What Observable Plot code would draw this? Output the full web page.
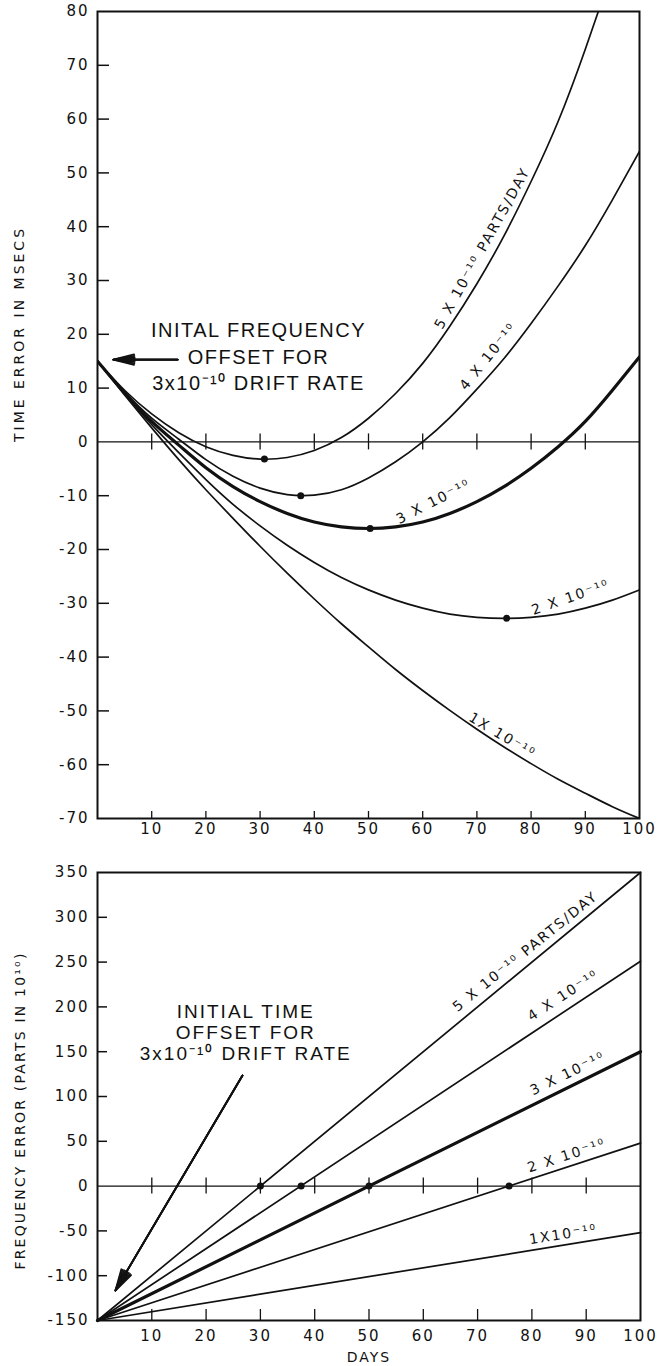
<!DOCTYPE html>
<html>
<head>
<meta charset="utf-8">
<script src="https://cdn.jsdelivr.net/npm/d3@7"></script>
<script src="https://cdn.jsdelivr.net/npm/@observablehq/plot@0.6"></script>
<style>
  html, body { margin: 0; padding: 0; background: #fff; }
  #chart svg { display: block; }
  g[aria-label="y-axis tick label"], g[aria-label="x-axis tick label"] { letter-spacing: 2px; }
  g[aria-description="axis title top"] { letter-spacing: 3px; }
  g[aria-description="axis title bottom"] { letter-spacing: 2.2px; }
  g[aria-description="days title"] { letter-spacing: 2px; }
  g[aria-description="curve labels"] { letter-spacing: 2px; }
  g[aria-description="note top"] { letter-spacing: 1.5px; }
  g[aria-description="note bottom"] { letter-spacing: 2px; }
</style>
</head>
<body>
<div id="chart"></div>
<script>
// ---------- DATA ----------
const days = [0, 5, 10, 15, 20, 25, 30, 35, 40, 45, 50, 55, 60, 65, 70, 75, 80, 85, 90, 95, 100];
// time error (msec) for drift rates 5,4,3,2,1 x10^-10 parts/day
const time5 = [15, 9.6, 5.2, 1.7, -0.9, -2.5, -3.2, -2.9, -1.6, 0.8, 4.4, 9.0, 14.6, 21.5, 29.4, 38.3, 48.4, 59.6, 73, 87.5, 101];
const time4 = [15, 9.3, 4.4, 0.5, -3.3, -6.4, -8.6, -9.8, -9.9, -8.9, -6.7, -3.7, 0, 4.5, 9.8, 15.5, 22, 29, 36.5, 45, 54];
const time3 = [15, 9.1, 3.8, -0.6, -4.8, -8.3, -11.1, -13.3, -14.9, -15.8, -16.1, -15.8, -14.9, -13.3, -11.1, -8.3, -4.9, -0.9, 3.8, 9.6, 15.8];
const time2 = [15, 8.9, 3.2, -2.0, -7.0, -11.6, -15.6, -19.2, -22.4, -25.2, -27.5, -29.4, -30.9, -32, -32.6, -32.8, -32.6, -32, -30.9, -29.4, -27.5];
const time1 = [15, 8.7, 2.6, -3.3, -8.9, -14.2, -19.4, -24.4, -29.2, -33.8, -38.1, -42.3, -46.2, -49.9, -53.4, -56.7, -59.8, -62.7, -65.3, -67.8, -70];
// minima dots (day, msec)
const timeDots = [{x: 30.8, y: -3.2}, {x: 37.5, y: -10}, {x: 50.3, y: -16.1}, {x: 75.5, y: -32.8}];

// frequency error (parts in 10^10), straight lines
const freqDays = [0, 100];
const freq5 = [-150, 350];
const freq4 = [-150, 251];
const freq3 = [-150, 150];
const freq2 = [-150, 48];
const freq1 = [-150, -52];
const freqDots = [{x: 30, y: 0}, {x: 37.5, y: 0}, {x: 50, y: 0}, {x: 75.8, y: 0}];

// tick values and labels
const xTickVals = [10, 20, 30, 40, 50, 60, 70, 80, 90];
const xTickLabels = [10, 20, 30, 40, 50, 60, 70, 80, 90, 100];
const yTopLabels = [-70, -60, -50, -40, -30, -20, -10, 0, 10, 20, 30, 40, 50, 60, 70, 80];
const yTopInner = [-60, -50, -40, -30, -20, -10, 10, 20, 30, 40, 50, 60, 70];
const yBotLabels = [-150, -100, -50, 0, 50, 100, 150, 200, 250, 300, 350];
const yBotInner = [-100, -50, 50, 100, 150, 200, 250, 300];

// curve labels (text, position in data units, angle)
const topCurveLabels = [
  {text: "5 X 10⁻¹⁰ PARTS/DAY", x: 71, y: 36, angle: -61},
  {text: "4 X 10⁻¹⁰", x: 72.1, y: 15.9, angle: -51},
  {text: "3 X 10⁻¹⁰", x: 62, y: -11.1, angle: -27},
  {text: "2 X 10⁻¹⁰", x: 87.3, y: -28.9, angle: -19},
  {text: "1X 10⁻¹⁰", x: 74.7, y: -54.6, angle: 31}
];
const botCurveLabels = [
  {text: "5 X 10⁻¹⁰ PARTS/DAY", x: 78.8, y: 261.8, angle: -39},
  {text: "4 X 10⁻¹⁰", x: 85.8, y: 212.7, angle: -33},
  {text: "3 X 10⁻¹⁰", x: 86.6, y: 125.7, angle: -26},
  {text: "2 X 10⁻¹⁰", x: 86.4, y: 34, angle: -18},
  {text: "1X10⁻¹⁰", x: 85.8, y: -54, angle: -9}
];
// annotations
const topNote = [{text: "INITAL FREQUENCY\nOFFSET FOR\n3x10⁻¹⁰ DRIFT RATE", x: 29.7, y: 16.1}];
const topArrow = [{x1: 14.8, y1: 15.3, x2: 2.9, y2: 15.3}];
const botNote = [{text: "INITIAL TIME\nOFFSET FOR\n3x10⁻¹⁰ DRIFT RATE", x: 27.3, y: 171.4}];
const botArrow = [{x1: 26.7, y1: 123.4, x2: 3.3, y2: -116.5}];

// ---------- BUILD ----------
const INK = "#111";
function rows(xs, series) {
  const out = [];
  for (const [rate, ys] of series) xs.forEach((d, i) => out.push({day: d, value: ys[i], rate}));
  return out;
}
const topThin = rows(days, [["5", time5], ["4", time4], ["2", time2], ["1", time1]]);
const topThick = rows(days, [["3", time3]]);
const botThin = rows(freqDays, [["5", freq5], ["4", freq4], ["2", freq2], ["1", freq1]]);
const botThick = rows(freqDays, [["3", freq3]]);

function arrowMarks(data, headPx, angles) {
  return angles.map(a => {
    const sw = 1.8;
    return Plot.arrow(data, {x1: "x1", y1: "y1", x2: "x2", y2: "y2", stroke: INK, strokeWidth: sw,
      headLength: headPx * 1.5 / sw, headAngle: a});
  });
}

const baseStyle = {fontFamily: "'DejaVu Sans', sans-serif", fontSize: "15px", color: INK, background: "white", overflow: "visible"};

const topChart = Plot.plot({
  width: 659, height: 845,
  marginTop: 11, marginRight: 20, marginBottom: 27, marginLeft: 97,
  x: {domain: [0, 100]},
  y: {domain: [-70, 80]},
  style: baseStyle,
  marks: [
    Plot.ruleY([0], {stroke: INK, strokeWidth: 1.3}),
    Plot.ruleX(xTickVals, {x: d => d, y1: 0, y2: 0, insetTop: -8, insetBottom: -8, stroke: INK, strokeWidth: 1.3}),
    Plot.ruleX(xTickVals, {x: d => d, y1: -70, y2: -70, insetTop: -7, stroke: INK, strokeWidth: 1.3}),
    Plot.ruleY(yTopInner, {y: d => d, x1: 0, x2: 0, insetRight: -12, stroke: INK, strokeWidth: 1.5}),
    Plot.line(topThin, {x: "day", y: "value", z: "rate", curve: "natural", stroke: INK, strokeWidth: 1.7, clip: true}),
    Plot.line(topThick, {x: "day", y: "value", z: "rate", curve: "natural", stroke: INK, strokeWidth: 3.2, clip: true}),
    Plot.dot(timeDots, {x: "x", y: "y", r: 3.5, fill: INK}),
    Plot.text(topCurveLabels, {x: "x", y: "y", text: "text", rotate: "angle", fontSize: 14, fill: INK, ariaDescription: "curve labels"}),
    Plot.text(topNote, {x: "x", y: "y", text: "text", fontSize: 20, lineHeight: 1.33, fill: INK,
      fontFamily: "'Liberation Sans', Arial, sans-serif", ariaDescription: "note top"}),
    ...arrowMarks(topArrow, 22, [28, 20, 12, 5]),
    Plot.axisY(yTopLabels, {tickSize: 0, tickPadding: 8, tickFormat: d => String(d), fontSize: 15}),
    Plot.axisX(xTickLabels, {tickSize: 0, tickPadding: 5, tickFormat: d => String(d), fontSize: 15}),
    Plot.text(["TIME ERROR IN MSECS"], {frameAnchor: "left", textAnchor: "middle", lineAnchor: "middle", dx: -78, dy: -81, rotate: -90, fontSize: 14, fill: INK, ariaDescription: "axis title top"}),
    Plot.frame({stroke: INK, strokeWidth: 2})
  ]
});

const botChart = Plot.plot({
  width: 659, height: 521,
  marginTop: 27, marginRight: 19, marginBottom: 46, marginLeft: 97,
  x: {domain: [0, 100]},
  y: {domain: [-150, 350]},
  style: baseStyle,
  marks: [
    Plot.ruleY([0], {stroke: INK, strokeWidth: 1.3}),
    Plot.ruleX(xTickVals, {x: d => d, y1: 0, y2: 0, insetTop: -8, insetBottom: -8, stroke: INK, strokeWidth: 1.3}),
    Plot.ruleX(xTickVals, {x: d => d, y1: -150, y2: -150, insetTop: -11, stroke: INK, strokeWidth: 1.3}),
    Plot.ruleY(yBotInner, {y: d => d, x1: 0, x2: 0, insetRight: -10, stroke: INK, strokeWidth: 1.5}),
    Plot.line(botThin, {x: "day", y: "value", z: "rate", stroke: INK, strokeWidth: 1.7}),
    Plot.line(botThick, {x: "day", y: "value", z: "rate", stroke: INK, strokeWidth: 3.2}),
    Plot.dot(freqDots, {x: "x", y: "y", r: 3.5, fill: INK}),
    Plot.text(botCurveLabels, {x: "x", y: "y", text: "text", rotate: "angle", fontSize: 14, fill: INK, ariaDescription: "curve labels"}),
    Plot.text(botNote, {x: "x", y: "y", text: "text", fontSize: 19, lineHeight: 1.1, fill: INK,
      fontFamily: "'Liberation Sans', Arial, sans-serif", ariaDescription: "note bottom"}),
    ...arrowMarks(botArrow, 22, [30, 22, 14, 6]),
    Plot.axisY(yBotLabels, {tickSize: 0, tickPadding: 8, tickFormat: d => String(d), fontSize: 15}),
    Plot.axisX(xTickLabels, {tickSize: 0, tickPadding: 10, tickFormat: d => String(d), fontSize: 15}),
    Plot.text(["DAYS"], {frameAnchor: "bottom", lineAnchor: "middle", dy: 37, fontSize: 14, fill: INK, ariaDescription: "days title"}),
    Plot.text(["FREQUENCY ERROR (PARTS IN 10¹⁰)"], {frameAnchor: "left", textAnchor: "middle", lineAnchor: "middle", dx: -77, dy: 14, rotate: -90, fontSize: 14, fill: INK, ariaDescription: "axis title bottom"}),
    Plot.frame({stroke: INK, strokeWidth: 2})
  ]
});

document.getElementById("chart").append(topChart, botChart);
</script>
</body>
</html>
